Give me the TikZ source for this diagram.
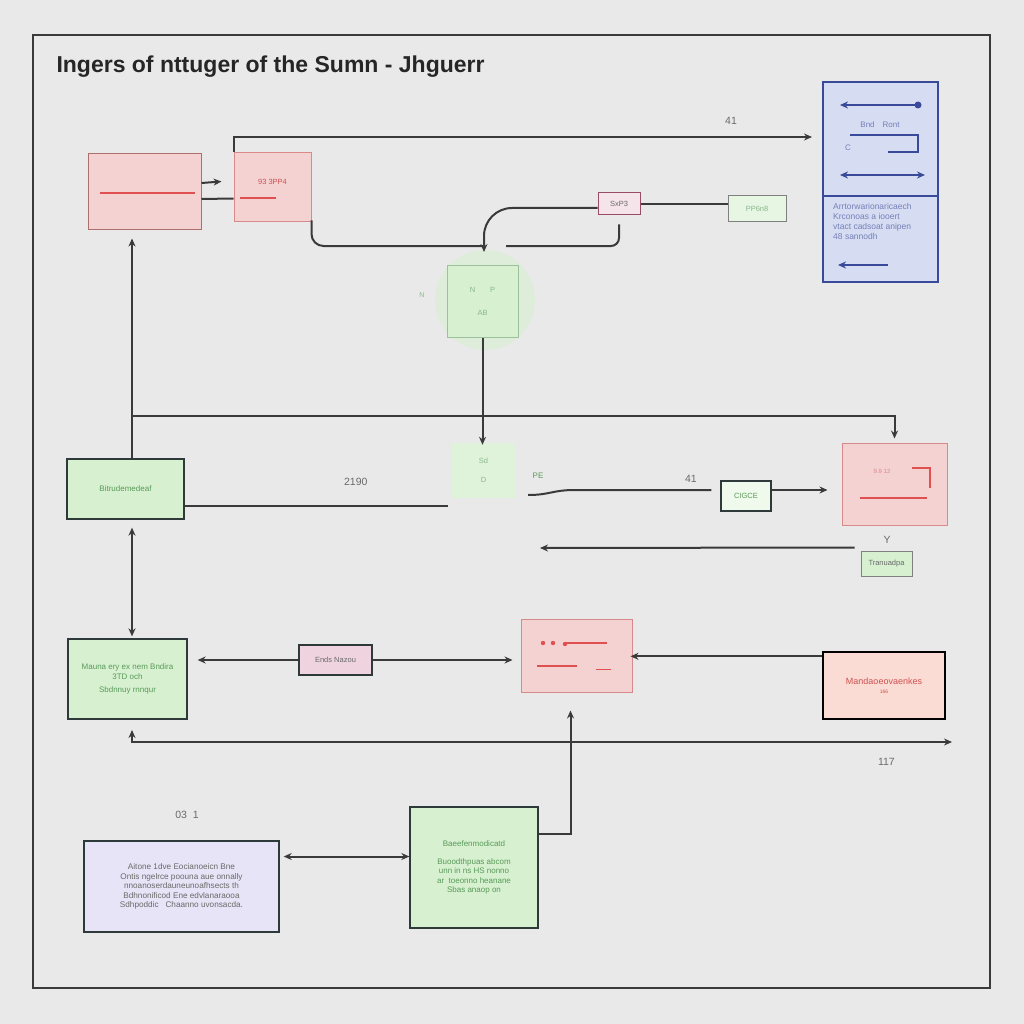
\documentclass[tikz,border=0pt]{standalone}
\usepackage{fontspec}
\setmainfont{Liberation Sans}
\usetikzlibrary{positioning,arrows.meta}

\definecolor{bggray}{HTML}{E9E9E9}
\definecolor{framegray}{HTML}{3A3A3A}
\definecolor{pinkfill}{HTML}{F4D2D2}
\definecolor{pinkdraw}{HTML}{D88A8A}
\definecolor{greenfill}{HTML}{D6F0D0}
\definecolor{darkdraw}{HTML}{2E3A3A}
\definecolor{bluefill}{HTML}{D6DCF2}
\definecolor{bluedraw}{HTML}{3A4A9A}
\definecolor{lavfill}{HTML}{E6E4F6}
\definecolor{mandfill}{HTML}{FBDCD4}
\definecolor{endsfill}{HTML}{EFD3DE}
\definecolor{greentext}{HTML}{5A9A5A}
\definecolor{redtext}{HTML}{D05050}
\definecolor{graytext}{HTML}{6A6A6A}
\definecolor{redline}{HTML}{E05050}

\begin{document}
\begin{tikzpicture}[x=1pt,y=-1pt, >={Stealth[length=8pt,width=7pt]},
    box/.style={inner sep=0pt, font=\fontsize{7.5}{9}\selectfont, align=center},
    pinkbox/.style={box, draw=pinkdraw, fill=pinkfill, line width=1pt},
    greenbox/.style={box, draw=darkdraw, fill=greenfill, line width=1.3pt, text=greentext},
    conn/.style={draw=framegray, line width=2pt},
    redmark/.style={draw=redline, line width=1.3pt},
    bluemark/.style={draw=bluedraw, line width=1.8pt},
    lbl/.style={font=\fontsize{10.5}{12}\selectfont, text=graytext}]
    \useasboundingbox[fill=bggray] (0,0) rectangle (1024,1024);
    \draw[framegray, line width=1.4pt] (33,35) rectangle (990,988);
    \node[anchor=west, font=\fontsize{23}{27}\selectfont\bfseries, text=black!85] (title) at (53,67) {Ingers of nttuger of the Sumn - Jhguerr};

    % top row
    \node[pinkbox, draw=pinkdraw!80!black, minimum width=113pt, minimum height=76pt] (A) at (144.5,192) {};
    \node[pinkbox, minimum width=77pt, minimum height=69pt, text=redtext] (B) at (272.5,187.5) {\raisebox{12pt}{93 3PP4}};
    \draw[redmark] (100,193) -- (195,193);
    \draw[redmark] (240,198) -- (276,198);
    \node[box, draw=purple!40!gray, fill=endsfill!60, line width=1pt, minimum width=42pt, minimum height=22pt, text=graytext] (sxp) at (619,204) {SxP3};
    \node[box, draw=gray, fill=greenfill!60, line width=1pt, minimum width=58pt, minimum height=26pt, text=greentext!70] (pp6) at (757,209) {PP6n8};

    % blue panel
    \node[box, draw=bluedraw, fill=bluefill, line width=1.4pt, minimum width=115pt, minimum height=200pt] (blue) at (880.5,182) {};
    \draw[bluedraw, line width=1.4pt] (823,196) -- (938,196);
    \draw[bluemark, <-] (840,105) -- (918,105);
    \fill[bluedraw] (918,105) circle (3.5pt);
    \node[font=\fontsize{8}{9}\selectfont, text=bluedraw!70] (bnd) at (880,125) {Bnd\quad Ront};
    \node[font=\fontsize{8}{9}\selectfont, text=bluedraw!70] (cc) at (848,148) {C};
    \draw[bluemark] (850,135) -- (918,135) -- (918,152) -- (888,152);
    \draw[bluemark, <->] (840,175) -- (925,175);
    \node[font=\fontsize{8.5}{10}\selectfont, text=bluedraw!70, align=left, anchor=north west, inner sep=0pt] (bnote) at (833,203) {Arrtorwarionaricaech\\Krconoas a iooert\\vtact cadsoat anipen\\48 sannodh};
    \draw[bluemark, ->] (888,265) -- (838,265);

    % middle glow box
    \fill[greenfill!60!bggray] (485,300) circle (50pt);
    \node[box, draw=greentext!60, fill=greenfill, line width=1pt, minimum width=71pt, minimum height=72pt, text=greentext!70] (glow) at (482.5,301) {N\qquad P\\[14pt]AB};
    \node[font=\fontsize{7}{8}\selectfont, text=greentext!70] (nn) at (422,295) {N};

    \coordinate (m1) at (484,246);
    \coordinate (m2) at (506,246);
    \coordinate (t1) at (812,137);
    \coordinate (j1) at (132,416);

    \draw[conn, ->] (B.north west) |- (t1) node[pos=0.93, above=8pt, lbl] {41};
    \draw[conn, ->] ([yshift=9pt]A.east) -- ([yshift=6pt,xshift=-12pt]B.west);
    \draw[conn] ([yshift=-7pt]A.east) -- ([yshift=-11pt]B.west);
    \draw[conn, rounded corners=12pt] ([yshift=2pt]B.south east) |- (m1);
    \draw[conn, ->, rounded corners=28pt] ([yshift=-4pt]sxp.west) -| ([yshift=-6pt]m1);
    \draw[conn, rounded corners=8pt] (m2) -| ([yshift=-9pt]sxp.south);
    \draw[conn] (sxp.east) -- (sxp.east -| pp6.west);

    % middle row
    \node[greenbox, minimum width=117pt, minimum height=60pt, font=\fontsize{8}{9.5}\selectfont] (lg1) at (125.5,489) {Bitrudemedeaf};
    \node[box, fill=greenfill!80, minimum width=63pt, minimum height=55pt, text=greentext!70] (csmall) at (483.5,470.5) {Sd\\[10pt]D};
    \node[box, draw=darkdraw, fill=greenfill!40, line width=1.3pt, minimum width=50pt, minimum height=30pt, text=greentext] (cigce) at (746,496) {CIGCE};
    \node[pinkbox, minimum width=105pt, minimum height=82pt, text=redtext] (rpink) at (894.5,484) {};
    \node[font=\fontsize{6}{7}\selectfont, text=redtext!70] (r99) at (882,471) {9.9 12};
    \draw[redmark] (860,498) -- (927,498);
    \draw[redmark] (912,468) -- (930,468) -- (930,488);
    \node[box, draw=gray, fill=greenfill, line width=1pt, minimum width=51pt, minimum height=25pt, text=graytext] (tran) at (886.5,563.5) {Tranuadpa};

    \coordinate (m3) at (448,506);
    \coordinate (m4) at (528,495);
    \coordinate (m5) at (540,548);

    \draw[conn, ->, shorten >=8pt] (j1) -- (j1 |- A.south);
    \draw[conn] (j1) -- (j1 |- lg1.north);
    \draw[conn, ->, shorten >=4pt] (j1) -| (rpink.north);
    \draw[conn, ->] (glow.south) -- ([yshift=-2pt]glow.south |- csmall.north);
    \draw[conn] ([yshift=-17pt]lg1.east) -- (m3) node[pos=0.65, above=16pt, lbl] {2190};
    \draw[conn] (m4) .. controls (550,495) and (552,490) .. (575,490) -- ([yshift=6pt,xshift=-9pt]cigce.west) node[pos=0.85, above=3pt, lbl] {41};
    \node[font=\fontsize{8}{9}\selectfont, text=greentext] (pe) at (538,476) {PE};
    \draw[conn, ->] ([yshift=6pt]cigce.east) -- ([yshift=-6pt,xshift=-14pt]rpink.west);
    \draw[conn, ->] ([yshift=3pt,xshift=-6pt]tran.north west) -- (m5);
    \node[lbl] (yy) at (887,540) {Y};

    % lower row
    \node[greenbox, minimum width=119pt, minimum height=80pt, font=\fontsize{8}{10}\selectfont] (lg2) at (127.5,679) {Mauna ery ex nem Bndira\\3TD och\\[3pt]Sbdnnuy rnnqur};
    \node[box, draw=darkdraw, fill=endsfill, line width=1.3pt, minimum width=73pt, minimum height=30pt, text=graytext] (ends) at (335.5,660) {Ends Nazou};
    \node[pinkbox, minimum width=111pt, minimum height=73pt] (cpink) at (576.5,655.5) {};
    \fill[redline] (543,643) circle (2.2pt) (553,643) circle (2.2pt) (565,644) circle (2.2pt);
    \draw[redmark] (565,643) -- (607,643);
    \draw[redmark] (537,666) -- (577,666);
    \draw[redmark, line width=0.9pt] (596,669) -- (611,669);
    \node[box, draw=black, fill=mandfill, line width=1.4pt, minimum width=122pt, minimum height=67pt, text=redtext, font=\fontsize{9}{10}\selectfont] (mand) at (884,685.5) {Mandaoeovaenkes\\[-1pt]{\fontsize{5}{6}\selectfont 166}};

    \draw[conn, <->] ([xshift=6.5pt,yshift=-8pt]lg1.south) -- ([xshift=4.5pt,yshift=2pt]lg2.north);
    \draw[conn, ->] (ends.west) -- ([xshift=10pt]lg2.east |- ends.west);
    \draw[conn, ->] (ends.east) -- ([xshift=-8pt]cpink.west |- ends.east);
    \draw[conn, ->] ([yshift=-5pt]mand.north west) -- ([xshift=-2pt,yshift=-5pt]cpink.east |- mand.north west);

    \coordinate (b1) at (132,742);
    \coordinate (b2) at (952,742);
    \draw[conn, <->] ([yshift=12pt]b1) -- (b1) -- (b2) node[pos=0.92, below=12pt, lbl] {117};

    % bottom row
    \node[greenbox, minimum width=128pt, minimum height=121pt, font=\fontsize{8}{9.5}\selectfont] (bgreen) at (474,867.5) {Baeefenmodicatd\\[8pt]Buoodthpuas abcom\\unn in ns HS nonno\\ar\ \ toeonno heanane\\Sbas anaop on};
    \node[box, draw=darkdraw, fill=lavfill, line width=1.4pt, minimum width=195pt, minimum height=91pt, text=graytext, font=\fontsize{8.2}{9.5}\selectfont] (lav) at (181.5,886.5) {Aitone 1dve Eocianoeicn Bne\\Ontis ngelrce poouna aue onnally\\nnoanoserdauneunoafhsects th\\Bdhnonificod Ene edvlanaraooa\\Sdhpoddic\ \ \ Chaanno uvonsacda.};
    \node[lbl] (o31) at (187,815) {03\ \ 1};

    \draw[conn, ->] ([yshift=34pt]bgreen.east) -| ([xshift=-6pt,yshift=-18pt]cpink.south);
    \draw[conn, <->] ([yshift=30pt,xshift=4pt]lav.east) -- ([yshift=30pt]lav.east -| bgreen.west);
\end{tikzpicture}
\end{document}
